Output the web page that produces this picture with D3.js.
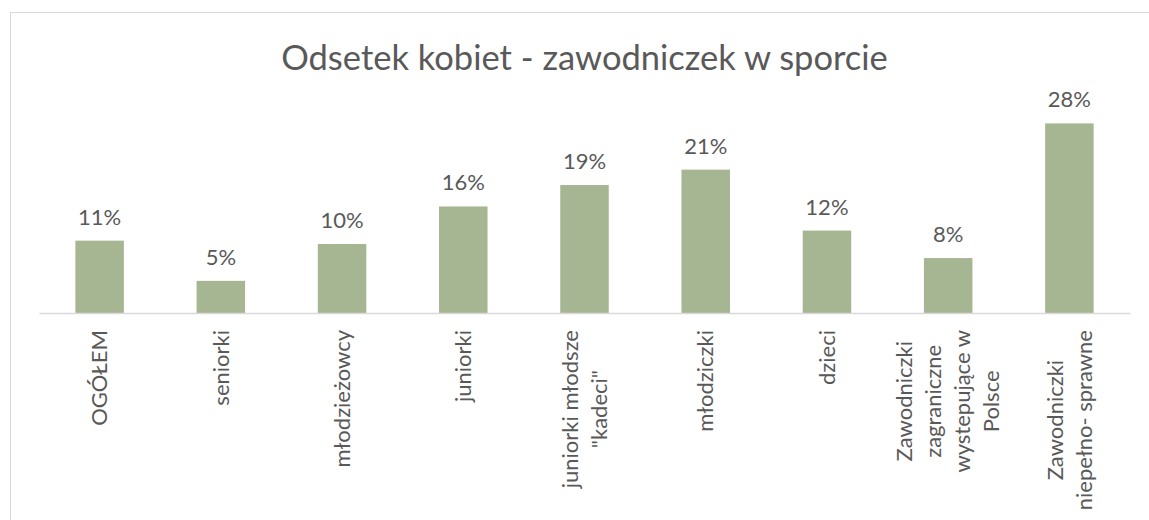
<!DOCTYPE html>
<html>
<head>
<meta charset="utf-8">
<script src="https://cdn.jsdelivr.net/npm/d3@7"></script>
<style>
  html, body { margin: 0; padding: 0; background: #fff; }
  svg { display: block; font-family: Lato, "Open Sans", sans-serif; }
</style>
</head>
<body>
<svg id="chart"></svg>
<script>
const title = 'Odsetek kobiet - zawodniczek w sporcie';
const categories = [
  'OGÓŁEM',
  'seniorki',
  'młodzieżowcy',
  'juniorki',
  'juniorki młodsze\n"kadeci"',
  'młodziczki',
  'dzieci',
  'Zawodniczki\nzagraniczne\nwystepujące w\nPolsce',
  'Zawodniczki\nniepełno- sprawne'
];
const values = [0.108, 0.048, 0.103, 0.159, 0.191, 0.214, 0.123, 0.082, 0.283];
const yMax = 0.30;

const width = 1149;
const height = 520;
const margin = { top: 112, right: 19, bottom: 207, left: 39 };
const textColor = '#595959';

const svg = d3.select('#chart')
  .attr('width', width)
  .attr('height', height);

// chart area border (right and bottom edges fall outside the picture)
svg.append('rect')
  .attr('x', 10.5)
  .attr('y', 12.5)
  .attr('width', width + 20)
  .attr('height', height + 20)
  .attr('fill', 'none')
  .attr('stroke', '#d9d9d9');

svg.append('text')
  .attr('x', (margin.left + width - margin.right) / 2)
  .attr('y', 70)
  .attr('text-anchor', 'middle')
  .attr('fill', textColor)
  .style('font-size', '34.5px')
  .text(title);

const x = d3.scaleBand()
  .domain(categories)
  .range([margin.left, width - margin.right])
  .paddingInner(0.6)
  .paddingOuter(0.3);

const y = d3.scaleLinear()
  .domain([0, yMax])
  .range([height - margin.bottom, margin.top]);

const data = categories.map((c, i) => ({ cat: c, value: values[i] }));

svg.selectAll('.bar')
  .data(data)
  .enter().append('rect')
  .attr('class', 'bar')
  .attr('x', d => x(d.cat))
  .attr('y', d => y(d.value))
  .attr('width', x.bandwidth())
  .attr('height', d => y(0) - y(d.value))
  .attr('fill', '#a6b592');

svg.selectAll('.value-label')
  .data(data)
  .enter().append('text')
  .attr('class', 'value-label')
  .attr('x', d => x(d.cat) + x.bandwidth() / 2)
  .attr('y', d => y(d.value) - 16)
  .attr('text-anchor', 'middle')
  .attr('fill', textColor)
  .style('font-size', '22px')
  .text(d => d3.format('.0%')(d.value));

// x axis, labels drawn by hand below so they can wrap
const xAxis = svg.append('g')
  .attr('transform', `translate(0,${y(0)})`)
  .call(d3.axisBottom(x).tickSize(0).tickFormat(''));
xAxis.select('.domain')
  .attr('stroke', '#d9d9d9')
  .attr('stroke-width', 1.5);

const lineHeight = 29;
const labelGap = 17;

const labels = svg.selectAll('.cat-label')
  .data(data)
  .enter().append('g')
  .attr('class', 'cat-label')
  .attr('transform', d => `translate(${x(d.cat) + x.bandwidth() / 2},${y(0)}) rotate(-90)`);

labels.each(function (d) {
  const g = d3.select(this);
  const lines = d.cat.split('\n');
  const texts = lines.map((line, i) => g.append('text')
    .attr('y', (i - (lines.length - 1) / 2) * lineHeight)
    .attr('dy', '0.35em')
    .attr('text-anchor', 'middle')
    .attr('fill', textColor)
    .style('font-size', '22px')
    .text(line));
  const maxW = d3.max(texts, t => t.node().getComputedTextLength());
  texts.forEach(t => t.attr('x', -labelGap - maxW / 2));
});
</script>
</body>
</html>
